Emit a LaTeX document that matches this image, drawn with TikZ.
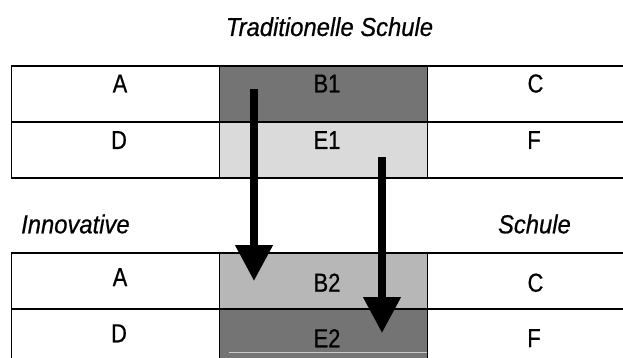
\documentclass[tikz,border=0pt]{standalone}
\usepackage{fontspec}
\setmainfont{Liberation Sans}
\newfontfamily\cellfont[FakeStretch=0.84,FakeBold=0.6]{Liberation Sans}
\newfontfamily\labfont[FakeStretch=0.915,FakeBold=0.6]{Liberation Sans}
\usetikzlibrary{arrows.meta}
\definecolor{dkgray}{HTML}{737473}
\definecolor{ltgray}{HTML}{DADADA}
\definecolor{mdgray}{HTML}{B6B7B6}
\definecolor{faint}{HTML}{CBCBCB}
\begin{document}
\begin{tikzpicture}[x=1pt,y=-1pt,
  cell/.style={font=\cellfont\fontsize{26}{30}\selectfont, anchor=base, inner sep=0pt},
  lab/.style={font=\labfont\itshape\fontsize{26}{30}\selectfont, anchor=base, inner sep=0pt},
  hrule/.style={line width=1.6pt},
  vrule/.style={line width=1pt},
  arr/.style={line width=7.6pt, -{Triangle[width=36pt,length=36pt]}}]
\useasboundingbox (0,0) rectangle (623,358);
% shaded cells
\fill[dkgray] (219,66) rectangle (427,122);
\fill[ltgray] (219,122) rectangle (427,178);
\fill[mdgray] (219,253) rectangle (427,309);
\fill[dkgray] (219,309) rectangle (427,358);
\draw[faint, line width=1pt] (229,352.7) -- (427,352.7);
% table 1 rules
\draw[hrule] (11,66) -- (623,66);
\draw[hrule] (11,122) -- (623,122);
\draw[hrule] (11,178) -- (623,178);
\draw[vrule] (11.5,66) -- (11.5,178);
\draw[vrule] (219,66) -- (219,178);
\draw[vrule] (427,66) -- (427,178);
% table 2 rules
\draw[hrule] (11,253) -- (623,253);
\draw[hrule] (11,309) -- (623,309);
\draw[vrule] (11.5,253) -- (11.5,358);
\draw[vrule] (219,253) -- (219,358);
\draw[vrule] (427,253) -- (427,358);
% labels
\node[lab] (title) at (329.5,36) {Traditionelle Schule};
\node[lab, anchor=base west] (innov) at (21,233.3) {Innovative};
\node[lab, anchor=base east] (schule) at (571,233.3) {Schule};
% table 1 texts
\node[cell] (a1) at (120,92.5) {A};
\node[cell] (b1) at (327,92.5) {B1};
\node[cell] (c1) at (535.5,92.5) {C};
\node[cell] (d1) at (119,149) {D};
\node[cell] (e1) at (327,149) {E1};
\node[cell] (f1) at (534,149) {F};
% table 2 texts
\node[cell] (a2) at (120,286) {A};
\node[cell] (b2) at (327,291.7) {B2};
\node[cell] (c2) at (535.5,291.7) {C};
\node[cell] (d2) at (119,342.3) {D};
\node[cell] (e2) at (327,347.3) {E2};
\node[cell] (f2) at (534,347) {F};
% arrows
\coordinate (s1) at (254,89);
\coordinate (t1) at (254,281);
\coordinate (s2) at (382,157);
\coordinate (t2) at (382,333);
\draw[arr] (s1) -- (t1);
\draw[arr] (s2) -- (t2);
\end{tikzpicture}
\end{document}
